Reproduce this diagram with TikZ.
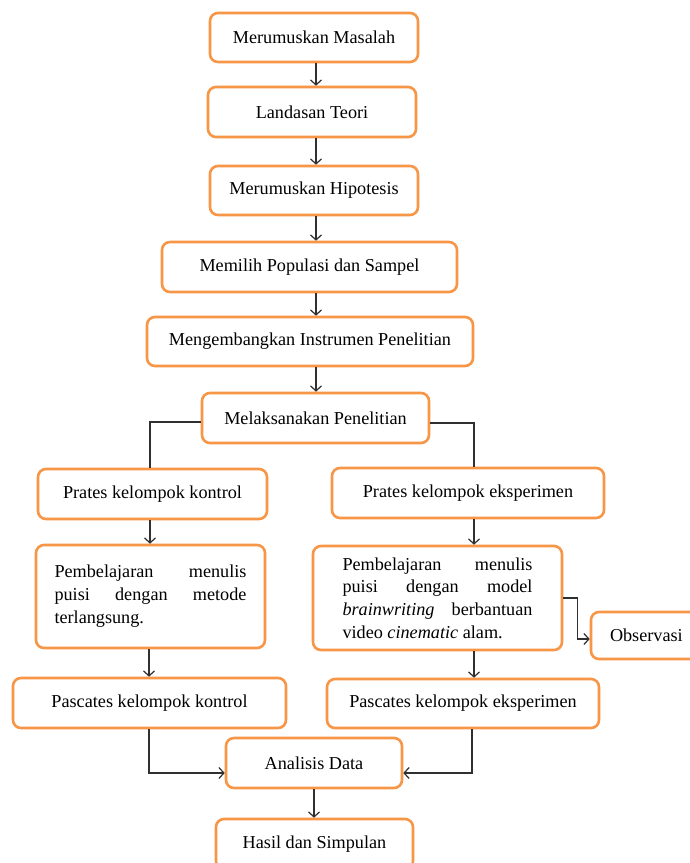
\documentclass[tikz,border=0pt]{standalone}
\usepackage{fontspec}
\setmainfont{Liberation Serif}
\usetikzlibrary{arrows.meta}
\definecolor{boxorange}{HTML}{F79646}
\definecolor{linegray}{HTML}{303030}
\begin{document}
\begin{tikzpicture}[x=1pt,y=-1pt,
  box/.style={draw=boxorange, line width=2.6pt, rounded corners=8pt, fill=white,
    inner sep=0pt, font=\fontsize{18.2}{23}\selectfont},
  conn/.style={draw=linegray, line width=1.2pt},
  arr/.style={conn, -{Straight Barb[length=5pt,width=11pt]}}]
\clip (0,0) rectangle (690,863);
\fill[white] (0,0) rectangle (690,863);
\coordinate (ax) at (316,0);
\coordinate (bx) at (314,0);
\coordinate (lx) at (150,0);
\coordinate (rx) at (474,0);
% main column
\node[box, minimum width=208pt, minimum height=49pt] (m1) at (314,37.5) {Merumuskan Masalah};
\node[box, minimum width=208pt, minimum height=50pt] (m2) at (312,112) {Landasan Teori};
\node[box, minimum width=208pt, minimum height=49pt] (m3) at (314,190.5) {Merumuskan Hipotesis};
\node[box, minimum width=295pt, minimum height=50pt] (m4) at (309.5,267) {Memilih Populasi dan Sampel};
\node[box, minimum width=326pt, minimum height=49pt] (m5) at (310,341.5) {Mengembangkan Instrumen Penelitian};
\node[box, minimum width=227pt, minimum height=50pt] (m6) at (315.5,418) {Melaksanakan Penelitian};
% branches
\node[box, minimum width=229pt, minimum height=50pt] (pk) at (152.5,494) {Prates kelompok kontrol};
\node[box, minimum width=272pt, minimum height=50pt] (pe) at (468,493) {Prates kelompok eksperimen};
\node[box, minimum width=229pt, minimum height=103pt, align=left] (lk) at (150.5,596.5)
  {\hbox to 192pt{Pembelajaran\hfill menulis}\\
   \hbox to 192pt{puisi\hfill dengan\hfill metode}\\
   terlangsung.};
\node[box, minimum width=249pt, minimum height=104pt, align=left, font=\fontsize{18.2}{22.7}\selectfont] (le) at (437.5,598)
  {\hbox to 190pt{Pembelajaran\hfill menulis}\\
   \hbox to 190pt{puisi\hfill dengan\hfill model}\\
   \hbox to 190pt{\textit{brainwriting}\hfill berbantuan}\\
   video \textit{cinematic} alam.};
\node[box, minimum height=47pt, text width=111pt, inner xsep=19pt, align=left] (ob) at (665.5,635.5) {Observasi};
\node[box, minimum width=273pt, minimum height=50pt] (qk) at (149.5,703) {\raisebox{3pt}{Pascates kelompok kontrol}\hspace{18pt}};
\node[box, minimum width=272pt, minimum height=49pt] (qe) at (463,703.5) {Pascates kelompok eksperimen};
\node[box, minimum width=176pt, minimum height=50pt] (ad) at (314,763) {Analisis Data};
\node[box, minimum width=197pt, minimum height=50pt] (hs) at (314.5,844) {Hasil dan Simpulan};
% connectors main column
\draw[arr] (ax |- m1.south) -- (ax |- m2.north);
\draw[arr] (ax |- m2.south) -- (ax |- m3.north);
\draw[arr] (ax |- m3.south) -- (ax |- m4.north);
\draw[arr] (ax |- m4.south) -- (ax |- m5.north);
\draw[arr] (ax |- m5.south) -- (ax |- m6.north);
% split
\draw[conn] ([yshift=-4pt]m6.west) -| (lx |- pk.north);
\draw[conn] ([yshift=-5pt]m6.east) -| (rx |- pe.north);
% left branch
\draw[arr] (lx |- pk.south) -- (lx |- lk.north);
\draw[arr] ([xshift=-1pt]lx |- lk.south) -- ([xshift=-1pt]lx |- qk.north);
% right branch
\draw[arr] (rx |- pe.south) -- (rx |- le.north);
\draw[arr] (rx |- le.south) -- (rx |- qe.north);
\draw[arr] (le.east) -- ++(14,0) |- ([yshift=-3.5pt]ob.west);
% merge
\draw[arr] ([xshift=-1pt]lx |- qk.south) |- ([yshift=-10pt]ad.west);
\draw[arr] ([xshift=-2pt]rx |- qe.south) |- ([yshift=-10pt]ad.east);
\draw[arr] (bx |- ad.south) -- (bx |- hs.north);
\end{tikzpicture}
\end{document}
